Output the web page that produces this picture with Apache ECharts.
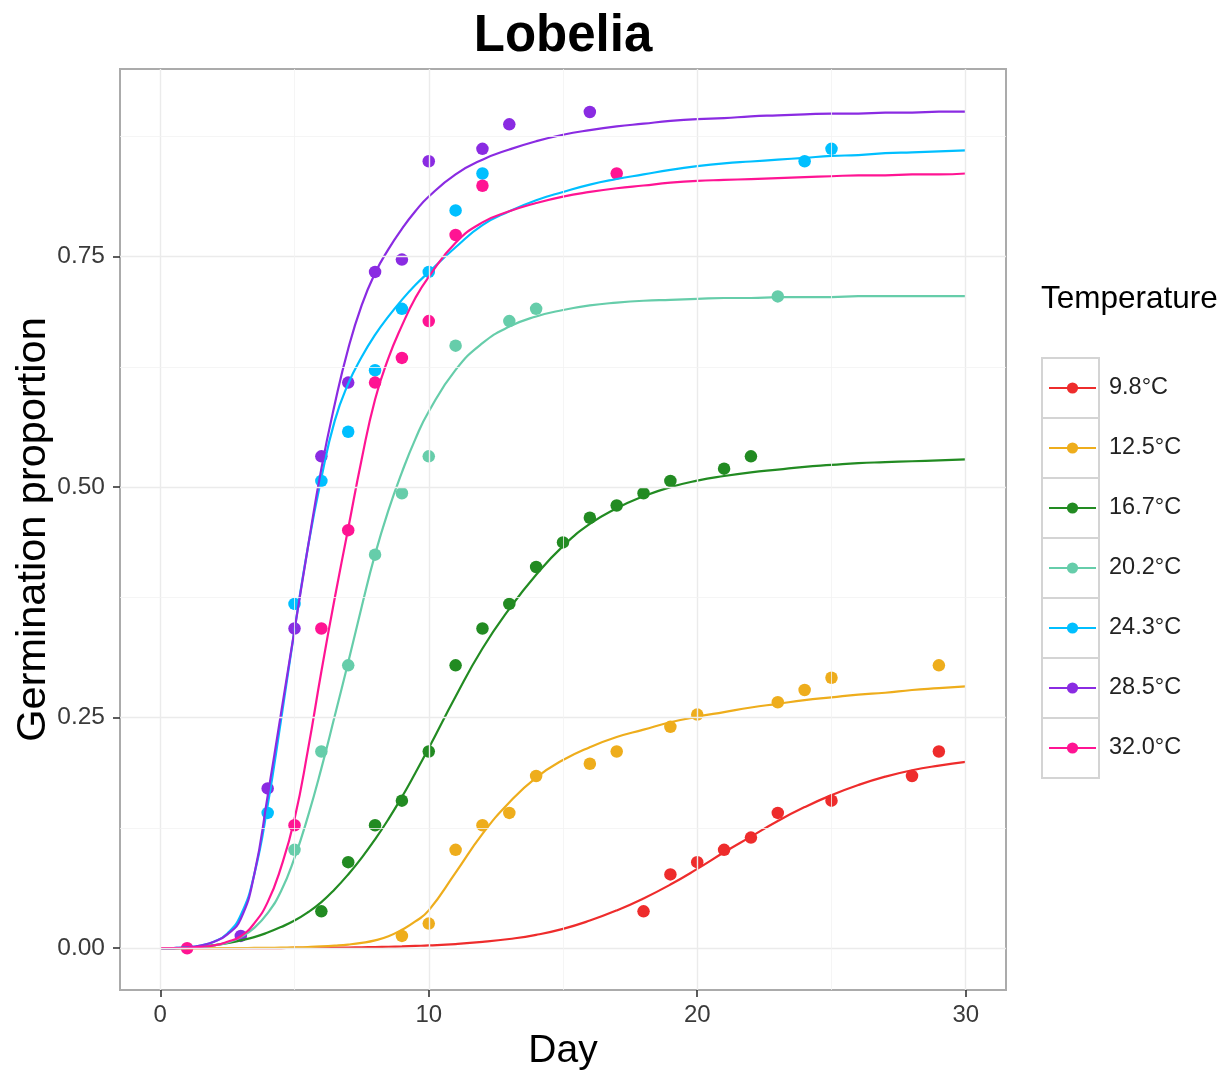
<!DOCTYPE html>
<html>
<head>
<meta charset="utf-8">
<script src="https://cdn.jsdelivr.net/npm/echarts@6/dist/echarts.min.js"></script>
<style>
html,body{margin:0;padding:0;background:#fff;}
#c{width:1229px;height:1075px;}
</style>
</head>
<body>
<div id="c"></div>
<script>
// ---------- data ----------
const temperatures = ['9.8°C','12.5°C','16.7°C','20.2°C','24.3°C','28.5°C','32.0°C'];
const colors = ['#EE2C2C','#EEAD1C','#228B22','#66CDAA','#00BFFF','#8A2BE2','#FF1493'];

const xTickValues = [0, 10, 20, 30];
const yTickValues = [0, 0.25, 0.5, 0.75];
const xMinorGrid = [5, 15, 25];
const yMinorGrid = [0.125, 0.375, 0.625, 0.875];

// observed germination proportions
const obsDays98  = [18,19,20,21,22,23,25,28,29];
const obsProp98  = [0.04,0.08,0.0933,0.1067,0.12,0.1467,0.16,0.1867,0.2133];
const obsDays125 = [9,10,11,12,13,14,16,17,19,20,23,24,25,29];
const obsProp125 = [0.0133,0.0267,0.1067,0.1333,0.1467,0.1867,0.2,0.2133,0.24,0.2533,0.2667,0.28,0.2933,0.3067];
const obsDays167 = [6,7,8,9,10,11,12,13,14,15,16,17,18,19,21,22];
const obsProp167 = [0.04,0.0933,0.1333,0.16,0.2133,0.3067,0.3467,0.3733,0.4133,0.44,0.4667,0.48,0.4933,0.5067,0.52,0.5333];
const obsDays202 = [5,6,7,8,9,10,11,13,14,23];
const obsProp202 = [0.1067,0.2133,0.3067,0.4267,0.4933,0.5333,0.6533,0.68,0.6933,0.7067];
const obsDays243 = [4,5,6,7,8,9,10,11,12,24,25];
const obsProp243 = [0.1467,0.3733,0.5067,0.56,0.6267,0.6933,0.7333,0.8,0.84,0.8533,0.8667];
const obsDays285 = [3,4,5,6,7,8,9,10,12,13,16];
const obsProp285 = [0.0133,0.1733,0.3467,0.5333,0.6133,0.7333,0.7467,0.8533,0.8667,0.8933,0.9067];
const obsDays320 = [1,5,6,7,8,9,10,11,12,17];
const obsProp320 = [0,0.1333,0.3467,0.4533,0.6133,0.64,0.68,0.7733,0.8267,0.84];

// fitted curves
const fitDays = [0,0.5,1,1.5,2,2.5,3,3.5,4,4.5,5,5.5,6,6.5,7,7.5,8,8.5,9,9.5,10,
                 11,12,13,14,15,16,17,18,19,20,21,22,23,24,25,26,27,28,29,30];
const fit98  = [0,0,0,0,0,0,0,0.0001,0.0001,0.0002,0.0003,0.0003,0.0005,0.0006,0.0008,0.001,0.0013,0.0016,0.002,0.0025,0.003,
                0.0045,0.0068,0.01,0.0145,0.021,0.03,0.041,0.054,0.069,0.086,0.104,0.121,0.138,0.153,0.166,0.177,0.186,0.193,0.198,0.202];
const fit125 = [0,0,0,0,0.0001,0.0001,0.0002,0.0003,0.0004,0.0006,0.0009,0.0013,0.0019,0.0028,0.004,0.0058,0.0085,0.013,0.02,0.029,0.041,
                0.082,0.124,0.158,0.185,0.204,0.218,0.229,0.237,0.245,0.251,0.256,0.261,0.265,0.269,0.272,0.275,0.277,0.28,0.282,0.284];
const fit167 = [0,0.0001,0.0008,0.0018,0.0033,0.0055,0.0085,0.012,0.017,0.023,0.03,0.039,0.05,0.064,0.08,0.098,0.118,0.14,0.164,0.19,0.217,
                0.273,0.325,0.368,0.405,0.436,0.46,0.477,0.49,0.5,0.507,0.512,0.516,0.519,0.522,0.524,0.526,0.527,0.528,0.529,0.53];
const fit202 = [0,0,0.0003,0.001,0.003,0.006,0.012,0.022,0.038,0.062,0.098,0.143,0.195,0.252,0.31,0.37,0.427,0.475,0.516,0.552,0.582,
                0.627,0.656,0.674,0.685,0.692,0.697,0.7,0.702,0.703,0.704,0.705,0.705,0.706,0.706,0.706,0.707,0.707,0.707,0.707,0.707];
const fit243 = [0,0.0002,0.001,0.003,0.007,0.016,0.036,0.08,0.155,0.248,0.345,0.435,0.51,0.572,0.612,0.641,0.665,0.685,0.703,0.719,0.733,
                0.76,0.784,0.799,0.811,0.82,0.828,0.834,0.839,0.844,0.848,0.851,0.853,0.855,0.857,0.859,0.86,0.862,0.863,0.864,0.865];
const fit285 = [0,0.0002,0.001,0.003,0.007,0.015,0.032,0.08,0.165,0.255,0.345,0.435,0.52,0.59,0.65,0.697,0.732,0.758,0.78,0.799,0.815,
                0.839,0.855,0.866,0.875,0.882,0.887,0.891,0.894,0.897,0.899,0.9,0.902,0.903,0.904,0.905,0.905,0.906,0.906,0.907,0.907];
const fit320 = [0,0.0001,0.0005,0.0015,0.003,0.007,0.013,0.027,0.05,0.088,0.14,0.215,0.3,0.38,0.455,0.53,0.595,0.64,0.675,0.705,0.728,
                0.765,0.787,0.799,0.808,0.815,0.82,0.824,0.827,0.83,0.832,0.833,0.834,0.835,0.836,0.837,0.838,0.838,0.839,0.839,0.84];

const obsDays = [obsDays98, obsDays125, obsDays167, obsDays202, obsDays243, obsDays285, obsDays320];
const obsProp = [obsProp98, obsProp125, obsProp167, obsProp202, obsProp243, obsProp285, obsProp320];
const fits = [fit98, fit125, fit167, fit202, fit243, fit285, fit320];

// ---------- chart ----------
const FONT = 'Liberation Sans, Arial, Helvetica, sans-serif';
const chart = echarts.init(document.getElementById('c'), null, {renderer: 'canvas'});

const gridLineItems = [].concat(
  yTickValues.map(v => ({yAxis: v, lineStyle: {type: 'solid', color: '#ebebeb', width: 1.4}})),
  xTickValues.map(v => ({xAxis: v, lineStyle: {type: 'solid', color: '#ebebeb', width: 1.4}})),
  yMinorGrid.map(v => ({yAxis: v, lineStyle: {type: 'solid', color: '#f3f3f3', width: 0.8}})),
  xMinorGrid.map(v => ({xAxis: v, lineStyle: {type: 'solid', color: '#f3f3f3', width: 0.8}}))
);

const series = [];
temperatures.forEach((t, i) => {
  series.push({
    name: t, type: 'line', z: 4, silent: true,
    data: fitDays.map((d, j) => [d, fits[i][j]]),
    smooth: 0.5,
    showSymbol: false, symbol: 'circle',
    lineStyle: {width: 2.2, color: colors[i]},
    itemStyle: {color: colors[i]}
  });
});
temperatures.forEach((t, i) => {
  series.push({
    name: t, type: 'scatter', z: 3, silent: true,
    data: obsDays[i].map((d, j) => [d, obsProp[i][j]]),
    symbol: 'circle', symbolSize: 12.5,
    itemStyle: {color: colors[i], opacity: 1}
  });
});
series.push({
  name: '_grid', type: 'line', z: 1, silent: true, data: [],
  markLine: {silent: true, symbol: ['none','none'], label: {show: false}, animation: false,
             emphasis: {disabled: true}, data: gridLineItems}
});

const keyTop = 358, keyH = 60;
const graphics = [
  {type: 'text', silent: true, z: 10, x: 563, y: 11,
   style: {text: 'Lobelia', font: 'bold 51px ' + FONT, fill: '#000', align: 'center', verticalAlign: 'top'}},
  {type: 'text', silent: true, z: 10, x: 1041, y: 283,
   style: {text: 'Temperature', font: '31.5px ' + FONT, fill: '#000', align: 'left', verticalAlign: 'top'}}
];
temperatures.forEach((t, i) => {
  graphics.push({type: 'rect', silent: true, z: -1,
    shape: {x: 1042, y: keyTop + i * keyH, width: 57, height: keyH},
    style: {fill: '#fff', stroke: '#d4d4d4', lineWidth: 2}});
});

const option = {
  animation: false,
  backgroundColor: '#fff',
  grid: {left: 120, top: 69, width: 886, height: 921, show: true, backgroundColor: '#fff',
         borderColor: '#ababab', borderWidth: 2, containLabel: false, outerBoundsMode: 'none'},
  xAxis: {
    type: 'value', min: -1.5, max: 31.5,
    axisLine: {show: false, onZero: false},
    splitLine: {show: false},
    axisTick: {show: true, customValues: xTickValues, length: 7, lineStyle: {color: '#333', width: 1.6}},
    axisLabel: {customValues: xTickValues, margin: 13, fontSize: 24, color: '#3a3a3a', fontFamily: FONT},
    name: 'Day', nameLocation: 'middle', nameGap: 41,
    nameTextStyle: {fontSize: 39, color: '#000', fontFamily: FONT}
  },
  yAxis: {
    type: 'value', min: -0.0453, max: 0.9533,
    axisLine: {show: false, onZero: false},
    splitLine: {show: false},
    axisTick: {show: true, customValues: yTickValues, length: 7, lineStyle: {color: '#333', width: 1.6}},
    axisLabel: {customValues: yTickValues, margin: 15, fontSize: 24.5, color: '#3a3a3a', fontFamily: FONT,
                formatter: v => Number(v).toFixed(2)},
    name: 'Germination proportion', nameLocation: 'middle', nameGap: 65, nameMoveOverlap: false,
    nameTextStyle: {fontSize: 41.5, color: '#000', fontFamily: FONT}
  },
  legend: {
    data: temperatures, orient: 'vertical', left: 1048, top: keyTop, padding: 0, itemGap: 0,
    itemWidth: 47, itemHeight: 14, selectedMode: false,
    textStyle: {fontSize: 23.5, color: '#222', lineHeight: keyH, padding: [0, 0, 0, 8], fontFamily: FONT}
  },
  graphic: graphics,
  series: series
};
chart.setOption(option);
</script>
</body>
</html>
